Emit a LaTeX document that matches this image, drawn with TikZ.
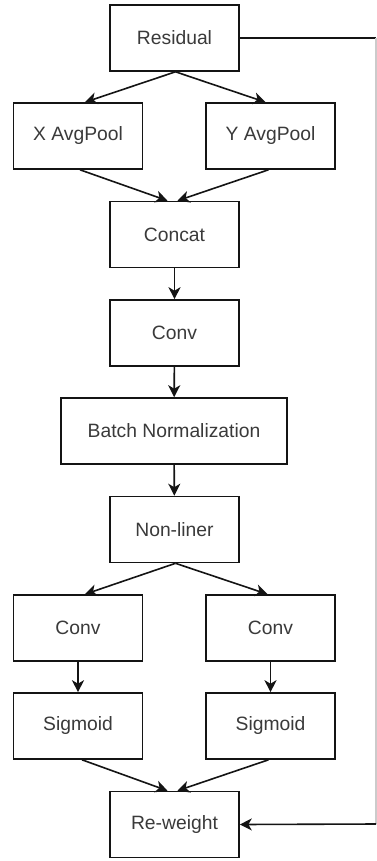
\documentclass[tikz,border=0pt]{standalone}
\usepackage{fontspec}
\setmainfont{Liberation Sans}
\usetikzlibrary{arrows.meta,calc}
\definecolor{ink}{HTML}{141414}
\definecolor{txt}{HTML}{3A3A3A}
\begin{document}
\begin{tikzpicture}[x=1pt,y=1pt,
  block/.style={draw=ink,line width=1.6pt,rectangle,minimum width=129pt,minimum height=66pt,
    text=txt,font=\fontsize{19.3}{23}\selectfont,inner sep=0pt},
  wide/.style={block,minimum width=226pt},
  flow/.style={draw=ink,line width=1.6pt,-{Stealth[length=12pt,width=12pt,inset=3.5pt]}}]
\useasboundingbox (0,0) rectangle (376,-861);
\fill[white] (0,0) rectangle (376,-861);

\node[block] (res) at (174.5,-38) {Residual};
\node[block] (xap) at (78,-136) {X AvgPool};
\node[block] (yap) at (270.5,-136) {Y AvgPool};
\node[block] (cat) at (174.5,-234.5) {Concat};
\node[block] (conv) at (174.5,-333) {Conv};
\node[wide] (bn) at (174,-431) {Batch Normalization};
\node[block] (nl) at (174.5,-529.5) {Non-liner};
\node[block] (cl) at (78,-628) {Conv};
\node[block] (cr) at (270.5,-628) {Conv};
\node[block] (sl) at (78,-726) {Sigmoid};
\node[block] (sr) at (270.5,-726) {Sigmoid};
\node[block] (rw) at (174.5,-824.5) {Re-weight};

\coordinate (skipTop) at (376,-38);
\coordinate (skipBot) at (376,-824);

% split after the residual
\draw[flow] ([xshift=1pt]res.south) -- ([xshift=7pt]xap.north);
\draw[flow] ([xshift=1pt]res.south) -- ([xshift=-5pt]yap.north);
% pooled branches into concat
\draw[flow] ([xshift=2pt]xap.south) -- ([xshift=-7pt]cat.north);
\draw[flow] ([xshift=-2pt]yap.south) -- ([xshift=3pt]cat.north);
% main chain
\draw[flow] (cat) -- (conv);
\draw[flow] (conv) -- (bn);
\draw[flow] (bn) -- (nl);
% split into the two attention branches
\draw[flow] ([xshift=1pt]nl.south) -- ([xshift=7pt]cl.north);
\draw[flow] ([xshift=1pt]nl.south) -- ([xshift=-3pt]cr.north);
\draw[flow] (cl) -- (sl);
\draw[flow] (cr) -- (sr);
\draw[flow] ([xshift=4pt]sl.south) -- ([xshift=-7pt]rw.north);
\draw[flow] ([xshift=-2pt]sr.south) -- ([xshift=3pt]rw.north);
% identity path around the right side
\draw[ink,line width=1.6pt] (res.east) -- (skipTop);
\draw[ink!22,line width=1.6pt] (skipTop) -- (skipBot);
\draw[flow] (skipBot) -- (rw.east);
\end{tikzpicture}
\end{document}
